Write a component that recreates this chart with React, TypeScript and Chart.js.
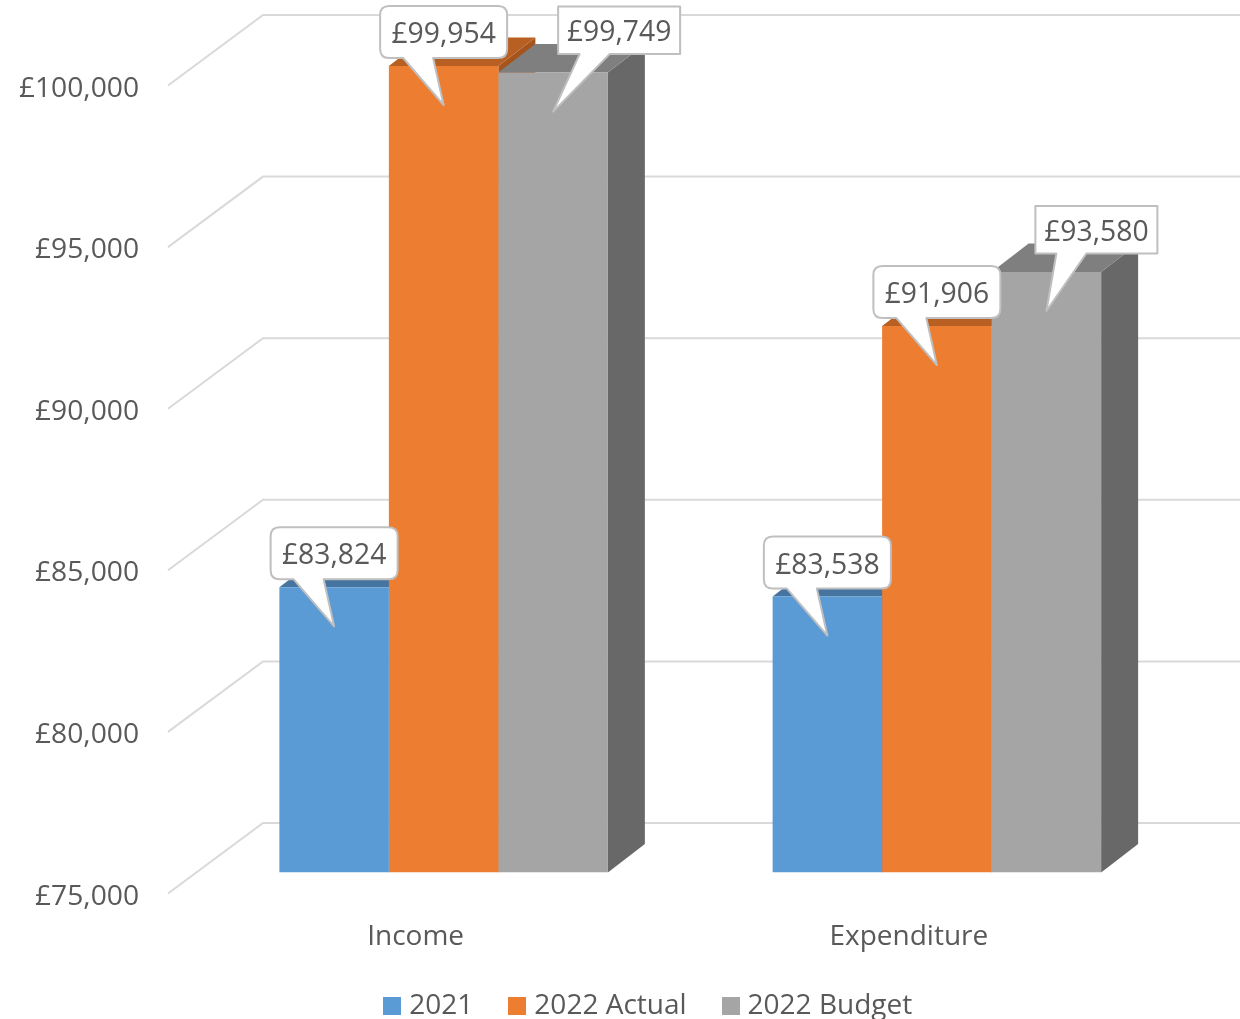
import React, { useEffect, useRef } from "react";
import { Chart, registerables } from "chart.js";

Chart.register(...registerables);

const categories = ["Income", "Expenditure"];
const values2021 = [83824, 83538];
const valuesActual = [99954, 91906];
const valuesBudget = [99749, 93580];
const seriesNames = ["2021", "2022 Actual", "2022 Budget"];

const FONT = "'Open Sans'";
const TEXT = "#595959";
const faces = [
  { front: "#5b9bd5", top: "#44749f", side: "#3c6589" },
  { front: "#ed7d31", top: "#b85f23", side: "#a5541d" },
  { front: "#a5a5a5", top: "#7f7f7f", side: "#686868" },
];
const DEPTH_X = 37;
const DEPTH_Y = -28.5;

const rounded = { l: -63.5, r: 63.5, t: -60, b: -8, tl: -40.5, tr: -10.5, radius: 9 };
const squareIncome = { l: 5, r: 127, t: -66, b: -18.5, tl: 26.5, tr: 56.5, radius: 0 };
const squareExpenditure = { l: -11, r: 111, t: -66, b: -18.5, tl: 10, tr: 40, radius: 0 };
const calloutShapes = [
  [rounded, rounded],
  [rounded, rounded],
  [squareIncome, squareExpenditure],
];

const wall3d = {
  id: "wall3d",
  afterLayout(chart: any) {
    chart.legend.left += 59;
    chart.legend.right += 59;
    chart.legend.top = 951;
    const y = chart.scales.y;
    y.top = 64.5;
    y.bottom = 872.5;
    y.height = 808;
    y.configure();
    chart.chartArea.top = 64.5;
    chart.chartArea.bottom = 872.5;
    chart.chartArea.height = 808;
  },
  beforeDatasetsDraw(chart: any) {
    const { ctx, scales } = chart;
    ctx.save();
    ctx.strokeStyle = "#d9d9d9";
    ctx.lineWidth = 2;
    for (const t of scales.y.ticks) {
      const y = scales.y.getPixelForValue(t.value);
      ctx.beginPath();
      ctx.moveTo(168, y + 21);
      ctx.lineTo(263, y - 49.5);
      ctx.lineTo(1240, y - 49.5);
      ctx.stroke();
    }
    faces.forEach((f, i) => {
      chart.getDatasetMeta(i).data.forEach((bar: any) => {
        const l = bar.x - bar.width / 2;
        const r = bar.x + bar.width / 2;
        ctx.fillStyle = f.side;
        ctx.beginPath();
        ctx.moveTo(r, bar.y);
        ctx.lineTo(r + DEPTH_X, bar.y + DEPTH_Y);
        ctx.lineTo(r + DEPTH_X, bar.base + DEPTH_Y);
        ctx.lineTo(r, bar.base);
        ctx.closePath();
        ctx.fill();
        ctx.fillStyle = f.top;
        ctx.beginPath();
        ctx.moveTo(l, bar.y);
        ctx.lineTo(l + DEPTH_X, bar.y + DEPTH_Y);
        ctx.lineTo(r + DEPTH_X, bar.y + DEPTH_Y);
        ctx.lineTo(r, bar.y);
        ctx.closePath();
        ctx.fill();
      });
    });
    ctx.restore();
  },
  afterDatasetsDraw(chart: any) {
    const { ctx } = chart;
    ctx.save();
    chart.data.datasets.forEach((ds: any, i: number) => {
      chart.getDatasetMeta(i).data.forEach((bar: any, j: number) => {
        const s = calloutShapes[i][j];
        const cx = bar.x;
        const cy = bar.y;
        const x0 = cx + s.l;
        const x1 = cx + s.r;
        const y0 = cy + s.t;
        const y1 = cy + s.b;
        const q = s.radius;
        ctx.beginPath();
        ctx.moveTo(x0 + q, y0);
        ctx.lineTo(x1 - q, y0);
        ctx.quadraticCurveTo(x1, y0, x1, y0 + q);
        ctx.lineTo(x1, y1 - q);
        ctx.quadraticCurveTo(x1, y1, x1 - q, y1);
        ctx.lineTo(cx + s.tr, y1);
        ctx.lineTo(cx, cy + 39);
        ctx.lineTo(cx + s.tl, y1);
        ctx.lineTo(x0 + q, y1);
        ctx.quadraticCurveTo(x0, y1, x0, y1 - q);
        ctx.lineTo(x0, y0 + q);
        ctx.quadraticCurveTo(x0, y0, x0 + q, y0);
        ctx.closePath();
        ctx.fillStyle = "#ffffff";
        ctx.fill();
        ctx.strokeStyle = "#bfbfbf";
        ctx.lineWidth = 2;
        ctx.lineJoin = "round";
        ctx.stroke();
        ctx.fillStyle = TEXT;
        ctx.font = `28.3px ${FONT}`;
        ctx.textAlign = "center";
        ctx.textBaseline = "middle";
        ctx.fillText(`£${ds.data[j].toLocaleString("en-GB")}`, (x0 + x1) / 2, (y0 + y1) / 2 + 3);
      });
    });
    ctx.restore();
  },
};

export default function App() {
  const ref = useRef<HTMLCanvasElement>(null);
  useEffect(() => {
    const swatches = faces.map((f) => {
      const c = document.createElement("canvas");
      c.width = 18;
      c.height = 18;
      const g = c.getContext("2d")!;
      g.fillStyle = f.front;
      g.fillRect(0, 0, 18, 18);
      return c;
    });
    const series = [values2021, valuesActual, valuesBudget];
    const chart = new Chart(ref.current!, {
      type: "bar",
      data: {
        labels: categories,
        datasets: series.map((data, i) => ({
          label: seriesNames[i],
          data,
          base: 75000,
          backgroundColor: faces[i].front,
          borderWidth: 0,
          barPercentage: 1,
          categoryPercentage: 0.666,
        })),
      },
      plugins: [wall3d],
      options: {
        animation: false,
        responsive: false,
        layout: { autoPadding: false, padding: { left: 0, top: 54.5, right: 56.5, bottom: -40 } },
        plugins: {
          tooltip: { enabled: false },
          legend: {
            display: true,
            position: "bottom",
            labels: {
              font: { family: FONT, size: 28 },
              color: TEXT,
              usePointStyle: true,
              pointStyleWidth: 6,
              padding: 41,
              generateLabels: () =>
                seriesNames.map((text, i) => ({
                  text,
                  fontColor: TEXT,
                  pointStyle: swatches[i],
                  datasetIndex: i,
                  hidden: false,
                  lineWidth: 0,
                })),
            },
          },
        },
        scales: {
          x: {
            type: "category",
            grid: { display: false, drawTicks: false },
            border: { display: false },
            afterFit: (s: any) => {
              s.height = 1019 + 40 - 872 - s.chart.legend.height;
            },
            ticks: {
              font: { family: FONT, size: 28 },
              color: TEXT,
              padding: 48,
              labelOffset: -28,
              maxRotation: 0,
            },
          },
          y: {
            type: "linear",
            min: 75000,
            max: 100000,
            grid: { display: false, drawTicks: false },
            border: { display: false },
            afterFit: (s: any) => {
              s.width = 197;
            },
            ticks: {
              stepSize: 5000,
              font: { family: FONT, size: 28.2 },
              color: TEXT,
              padding: 58,
              labelOffset: 24,
              callback: (v: any) => `£${Number(v).toLocaleString("en-GB")}`,
            },
          },
        },
      } as any,
    });
    return () => chart.destroy();
  }, []);
  return (
    <canvas
      ref={ref}
      width={1240}
      height={1019}
      style={{ position: "fixed", left: 0, top: 0, width: 1240, height: 1019, display: "block" }}
    />
  );
}
